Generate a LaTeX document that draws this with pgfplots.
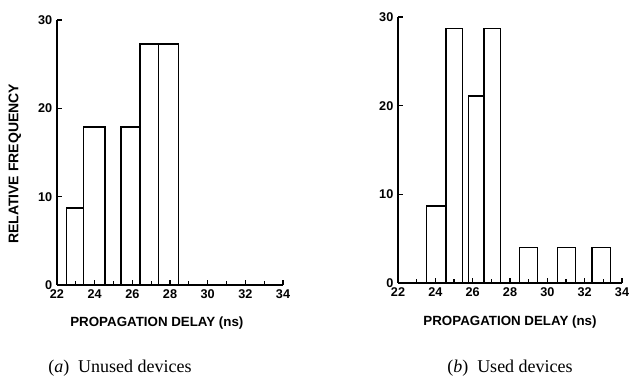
\documentclass[border=0pt]{standalone}
\usepackage{pgfplots}
\pgfplotsset{compat=1.18}
\usepackage{fontspec}
\setmainfont{Liberation Sans}
\newfontfamily\capfont{Liberation Serif}
\begin{document}
\begin{tikzpicture}
\useasboundingbox (0pt,0pt) rectangle (475.5pt,288pt);
\pgfplotsset{
  histo/.style={
    scale only axis,
    anchor=south west,
    xmin=22, xmax=34, ymin=0, ymax=30,
    axis x line=bottom, axis y line=left,
    axis line style={-, line width=0.9pt},
    xtick={22,24,...,34}, minor x tick num=1,
    ytick={0,10,20,30},
    tick align=inside,
    major tick length=4pt, minor tick length=3pt,
    every tick/.style={black, line width=0.8pt},
    /pgf/number format/assume math mode=true,
    ticklabel style={font=\bfseries\fontsize{9.5}{9.5}\selectfont},
    xlabel style={font=\bfseries\fontsize{10}{10}\selectfont},
    ylabel style={font=\bfseries\fontsize{10.5}{10.5}\selectfont},
    clip=false,
  }
}
\begin{axis}[histo, at={(42.75pt,74.25pt)}, width=169.5pt, height=198.75pt,
  xlabel={PROPAGATION DELAY (ns)},
  xlabel style={at={(axis description cs:0.442,-0.143)}, anchor=center},
  ylabel={RELATIVE FREQUENCY},
  ylabel style={at={(axis description cs:-0.186,0.457)}, anchor=center}]
\addplot[ybar interval, draw=black, fill=none, line width=1pt] coordinates {
  (22.5,8.7) (23.4,17.9) (24.55,0) (25.4,17.9) (26.4,27.3) (27.4,27.3) (28.45,0)
};
\end{axis}
\begin{axis}[histo, at={(298.5pt,75.75pt)}, width=168pt, height=199.5pt,
  xlabel={PROPAGATION DELAY (ns)},
  xlabel style={at={(axis description cs:0.5,-0.147)}, anchor=center}]
\addplot[ybar interval, draw=black, fill=none, line width=1pt] coordinates {
  (23.52,8.7) (24.57,28.7) (25.45,0) (25.77,21.1) (26.6,28.7) (27.5,0)
  (28.5,4.0) (29.47,0) (30.54,4.0) (31.5,0) (32.4,4.0) (33.4,0)
};
\end{axis}
\node[font=\capfont\fontsize{13.5}{13.5}\selectfont] at (90pt,11.5pt) {(\textit{a})\enspace Unused devices};
\node[font=\capfont\fontsize{13.5}{13.5}\selectfont] at (382.5pt,11.5pt) {(\textit{b})\enspace Used devices};
\end{tikzpicture}
\end{document}
